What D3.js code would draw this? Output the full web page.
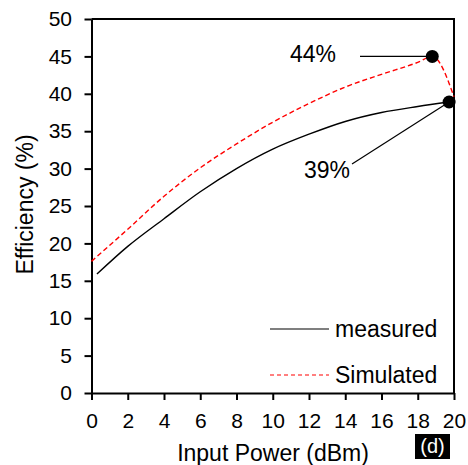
<!DOCTYPE html>
<html><head><meta charset="utf-8">
<script src="https://cdn.jsdelivr.net/npm/d3@7"></script>
<style>body{margin:0;background:#fff}svg{display:block}text{font-family:"Liberation Sans",Arial,sans-serif;fill:#000}</style>
</head><body>
<script>
const measuredX = [0.3, 2, 4, 6, 8, 10, 12, 14, 16, 18, 19.73];
const measuredY = [15.9, 19.6, 23.3, 26.9, 30.0, 32.6, 34.6, 36.3, 37.5, 38.3, 38.9];
const simulatedX = [0, 2, 4, 6, 8, 10, 12, 14, 16, 18, 18.8, 20];
const simulatedY = [17.6, 21.9, 26.3, 30.1, 33.3, 36.2, 38.7, 40.9, 42.6, 44.2, 45.0, 39.6];
const xTicks = [0, 2, 4, 6, 8, 10, 12, 14, 16, 18, 20];
const yTicks = [0, 5, 10, 15, 20, 25, 30, 35, 40, 45, 50];
const seriesNames = ["measured", "Simulated"];
const annoSim = {x: 18.8, y: 45.0, label: "44%"};
const annoMeas = {x: 19.73, y: 38.9, label: "39%"};

const W = 468, H = 465;
const svg = d3.select("body").append("svg").attr("width", W).attr("height", H);
const x = d3.scaleLinear().domain([0, 20]).range([91.5, 454]);
const y = d3.scaleLinear().domain([0, 50]).range([393, 19]);

svg.append("path").attr("d", `M${x(0)},${y(50)}H${x(20)}V${y(0)}`)
  .attr("fill", "none").attr("stroke", "#000").attr("stroke-width", 2);

const gx = svg.append("g").attr("transform", `translate(0,${y(0)})`)
  .call(d3.axisBottom(x).tickValues(xTicks).tickSize(7).tickSizeOuter(0).tickPadding(13).tickFormat(d3.format("d")));
const gy = svg.append("g").attr("transform", `translate(${x(0)},0)`)
  .call(d3.axisLeft(y).tickValues(yTicks).tickSize(7).tickSizeOuter(0).tickPadding(12.5).tickFormat(d3.format("d")));
[gx, gy].forEach(g => {
  g.select(".domain").attr("stroke-width", 2);
  g.selectAll(".tick line").attr("stroke-width", 2);
  g.selectAll(".tick text").attr("font-size", 21).attr("font-family", '"Liberation Sans",Arial,sans-serif').attr("fill", "#000");
});

const line = d3.line().x(d => x(d[0])).y(d => y(d[1])).curve(d3.curveMonotoneX);
const meas = measuredX.map((v, i) => [v, measuredY[i]]);
const sim = simulatedX.map((v, i) => [v, simulatedY[i]]);
svg.append("path").attr("d", line(sim)).attr("fill", "none").attr("stroke", "#ff0000")
  .attr("stroke-width", 1.4).attr("stroke-dasharray", "5,3");
svg.append("path").attr("d", line(meas)).attr("fill", "none").attr("stroke", "#000").attr("stroke-width", 1.4);

svg.append("line").attr("x1", 360).attr("x2", x(annoSim.x)).attr("y1", y(annoSim.y)).attr("y2", y(annoSim.y))
  .attr("stroke", "#000").attr("stroke-width", 1.2);
svg.append("line").attr("x1", 352).attr("y1", 164).attr("x2", x(annoMeas.x)).attr("y2", y(annoMeas.y))
  .attr("stroke", "#000").attr("stroke-width", 1.2);
svg.append("circle").attr("cx", x(annoSim.x)).attr("cy", y(annoSim.y)).attr("r", 6.5).attr("fill", "#000");
svg.append("circle").attr("cx", x(annoMeas.x)).attr("cy", y(annoMeas.y)).attr("r", 6.5).attr("fill", "#000");
svg.append("text").attr("x", 290).attr("y", 62).attr("font-size", 23).text(annoSim.label);
svg.append("text").attr("x", 304).attr("y", 178).attr("font-size", 23).text(annoMeas.label);

const leg = [{y: 329, text: seriesNames[0], stroke: "#000", dash: null},
             {y: 375, text: seriesNames[1], stroke: "#ff0000", dash: "4,3"}];
leg.forEach(l => {
  svg.append("line").attr("x1", 270).attr("x2", 329).attr("y1", l.y).attr("y2", l.y)
    .attr("stroke", l.stroke).attr("stroke-width", 1.2).attr("stroke-dasharray", l.dash);
  svg.append("text").attr("x", 335).attr("y", l.y + 7.5).attr("font-size", 23).text(l.text);
});

svg.append("text").attr("x", 273).attr("y", 461).attr("text-anchor", "middle").attr("font-size", 23).text("Input Power (dBm)");
svg.append("text").attr("transform", "translate(33,204.5) rotate(-90)").attr("text-anchor", "middle").attr("font-size", 23).text("Efficiency (%)");

svg.append("rect").attr("x", 415).attr("y", 434).attr("width", 35).attr("height", 25).attr("fill", "#000");
svg.append("text").attr("x", 432.5).attr("y", 453).attr("text-anchor", "middle").attr("font-size", 20).style("fill", "#fff").text("(d)");
</script>
</body></html>
